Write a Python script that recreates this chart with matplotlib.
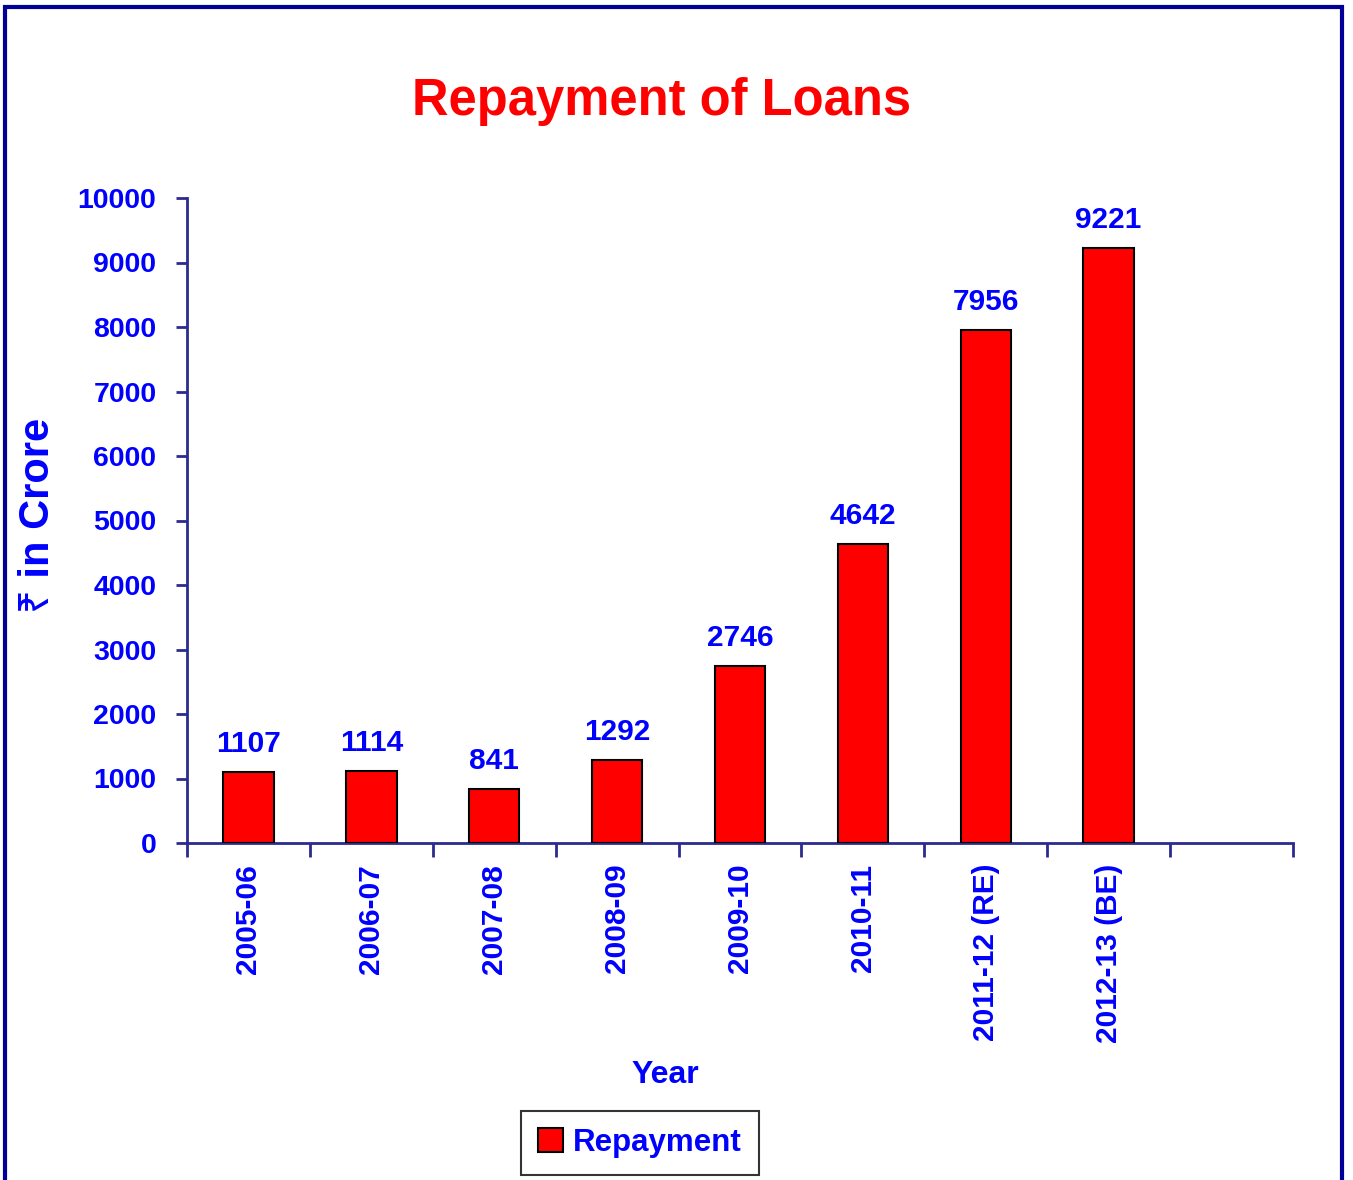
import matplotlib
matplotlib.use("Agg")
import matplotlib.pyplot as plt
from matplotlib.patches import Rectangle

years = ["2005-06", "2006-07", "2007-08", "2008-09", "2009-10", "2010-11", "2011-12 (RE)", "2012-13 (BE)"]
repayment = [1107, 1114, 841, 1292, 2746, 4642, 7956, 9221]
yticks = [0, 1000, 2000, 3000, 4000, 5000, 6000, 7000, 8000, 9000, 10000]

plt.rcParams['font.family'] = ['Liberation Sans', 'Noto Sans', 'DejaVu Sans']
plt.rcParams['font.weight'] = 'bold'

BLUE = '#0000FF'
AXC = '#2B2B8F'

fig = plt.figure(figsize=(13.53, 11.8), dpi=100)
ax = fig.add_axes([187/1353, 1-843/1180, (1293-187)/1353, (843-198)/1180])

x = list(range(len(years)))
bars = ax.bar(x, repayment, width=0.41, color='#FF0000', edgecolor='black', linewidth=1.5, label='Repayment', zorder=3)
for xi, v in zip(x, repayment):
    ax.annotate(str(v), (xi, v), xytext=(0, 10), textcoords='offset points',
                ha='center', va='bottom', color=BLUE, fontsize=21.5, fontweight='bold')

ax.set_xlim(-0.5, 8.5)
ax.set_ylim(0, 10000)
ax.set_yticks(yticks)
ax.set_yticklabels([str(t) for t in yticks], color=BLUE, fontsize=20.5, fontweight='bold')
ax.set_xticks([i - 0.5 for i in range(10)])
ax.set_xticklabels([])
ax.set_xticks(x, minor=True)
ax.set_xticklabels(years, minor=True, rotation=90, color=BLUE, fontsize=21.5, fontweight='bold')
ax.tick_params(axis='x', which='major', length=10, width=2, color=AXC, direction='out')
ax.tick_params(axis='x', which='minor', length=0, pad=15)
ax.tick_params(axis='y', length=8, width=2, color=AXC, direction='out', pad=14)

for s in ['top', 'right']:
    ax.spines[s].set_visible(False)
for s in ['left', 'bottom']:
    ax.spines[s].set_color(AXC)
    ax.spines[s].set_linewidth(2)

ax.set_xlabel('Year', color=BLUE, fontsize=23, fontweight='bold')
ax.xaxis.set_label_coords((665-187)/1106, -(1075-843)/645)
ax.xaxis.label.set_va('center')
ax.set_ylabel('₹ in Crore', color=BLUE, fontsize=30, fontweight='bold')
ax.yaxis.set_label_coords(-(187-38)/1106, (843-515)/645)
ax.yaxis.label.set_va('center')

fig.suptitle('Repayment of Loans', x=662/1353, y=1-102/1180, va='center', color='#FF0000', fontsize=36.5, fontweight='bold')

leg = fig.legend(handles=[bars], labels=['Repayment'], loc='center', bbox_to_anchor=(640/1353, 1-1143/1180),
                 frameon=True, fancybox=False, edgecolor='black', fontsize=22.5,
                 handlelength=0.8, handleheight=0.8, handletextpad=0.3, borderpad=0.55, borderaxespad=0)
leg.get_frame().set_linewidth(1.5)
for t in leg.get_texts():
    t.set_color(BLUE)
    t.set_fontweight('bold')

fig.patches.append(Rectangle((5/1353, -0.01), (1342-5)/1353, 1.01 - 7/1180, transform=fig.transFigure,
                             fill=False, edgecolor='#000099', linewidth=3))

fig.savefig('out.png', dpi=100)
